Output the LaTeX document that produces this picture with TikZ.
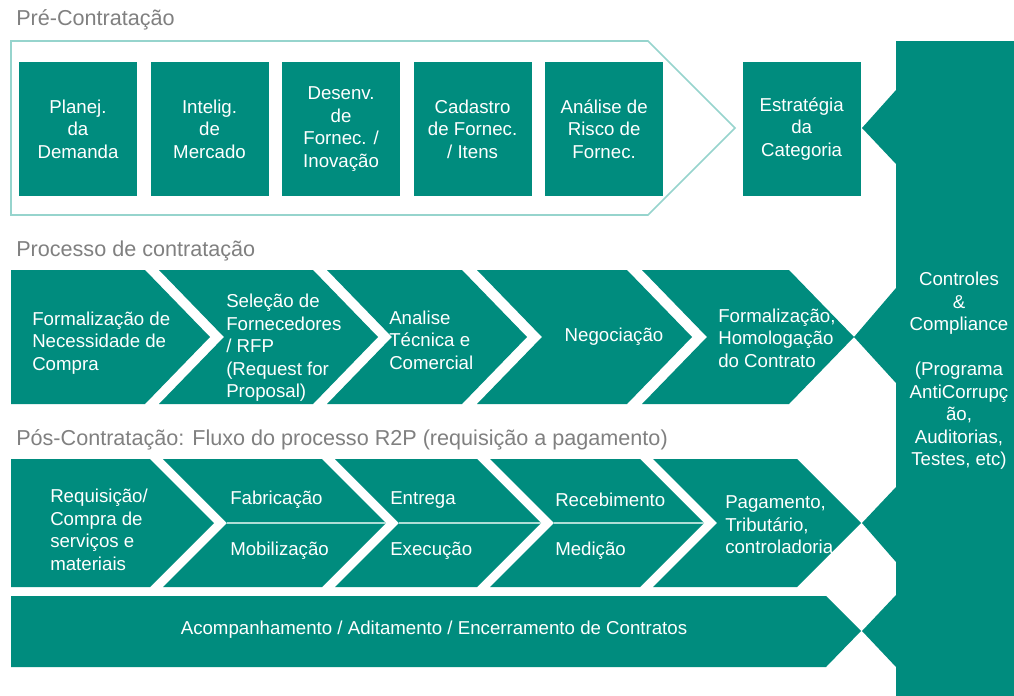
\documentclass[tikz,border=0pt]{standalone}
\usepackage{fontspec}
\setmainfont{Liberation Sans}
\usetikzlibrary{positioning}
\definecolor{tealfill}{RGB}{0,140,126}
\definecolor{tealline}{RGB}{150,212,205}
\definecolor{labelgray}{RGB}{128,128,128}
\definecolor{divline}{RGB}{175,222,215}
\begin{document}
\begin{tikzpicture}[x=0.75pt, y=-0.75pt,
    every node/.style={font=\fontsize{14}{16.9}\selectfont},
    pbox/.style={fill=tealfill, text=white, minimum width=88.5pt, minimum height=100.5pt, align=center, inner sep=0pt},
    lbl/.style={text=labelgray, anchor=base west, inner sep=0pt, font=\fontsize{16.2}{18}\selectfont},
    txt/.style={text=white, anchor=west, align=left, inner sep=0pt},
    divider/.style={draw=divline, line width=0.9pt}]
    \fill[white] (0,0) rectangle (1014,696);
    \useasboundingbox (0,0) rectangle (1014,696);

    % Pre-contratacao
    \node[lbl] (pre) at (16,26) {Pré-Contratação};
    \draw[tealline, line width=1.2pt] (11,41) -- (648,41) -- (735,128) -- (648,215) -- (11,215) -- cycle;
    \node[pbox] (b1) at (78,129) {Planej.\\da\\Demanda};
    \node[pbox, right=9.75pt of b1] (b2) {Intelig.\\de\\Mercado};
    \node[pbox, right=9.75pt of b2] (b3) {Desenv.\\de\\Fornec. /\\Inovação};
    \node[pbox, right=9.75pt of b3] (b4) {Cadastro\\de Fornec.\\/ Itens};
    \node[pbox, right=9.75pt of b4] (b5) {Análise de\\Risco de\\Fornec.};
    \node[pbox, right=59.25pt of b5] (b6) {Estratégia\\da\\Categoria};

    % controles
    \fill[tealfill] (896,41) -- (1014,41) -- (1014,696) -- (896,696) -- (896,667) -- (862,631) -- (896,595)
        -- (896,562) -- (862,523) -- (896,487) -- (896,383) -- (854,337) -- (896,288)
        -- (896,164) -- (862,128) -- (896,90) -- cycle;
    \node[text=white, align=center] (ctrl) at (959,371) {Controles\\\&\\Compliance\\[16.9pt](Programa\\AntiCorrupç\\ão,\\Auditorias,\\Testes, etc)};

    % processo de contratacao
    \node[lbl] (proc) at (16,256) {Processo de contratação};
    \fill[tealfill] (11,270) -- (145,270) -- (210,337) -- (145,404) -- (11,404) -- cycle;
    \fill[tealfill] (159,270) -- (313,270) -- (378,337) -- (313,404) -- (159,404) -- (224,337) -- cycle;
    \fill[tealfill] (327,270) -- (462,270) -- (527,337) -- (462,404) -- (327,404) -- (392,337) -- cycle;
    \fill[tealfill] (477,270) -- (627,270) -- (692,337) -- (627,404) -- (477,404) -- (542,337) -- cycle;
    \fill[tealfill] (642,270) -- (789,270) -- (854,337) -- (789,404) -- (642,404) -- (707,337) -- cycle;
    \node[txt] (p1) at (32,343) {Formalização de\\Necessidade de\\Compra};
    \node[txt] (p2) at (226,348) {Seleção de\\Fornecedores\\/ RFP\\(Request for\\Proposal)};
    \node[txt] (p3) at (389,340) {Analise\\Técnica e\\Comercial};
    \node[text=white] (p4) at (614,337) {Negociação};
    \node[txt] (p5) at (718,338) {Formalização,\\Homologação\\do Contrato};

    % pos-contratacao
    \node[lbl] (pos) at (16,445) {Pós-Contratação: Fluxo do processo R2P (requisição a pagamento)};
    \fill[tealfill] (11,459) -- (150,459) -- (214,523) -- (150,587) -- (11,587) -- cycle;
    \fill[tealfill] (163,459) -- (322,459) -- (386,523) -- (322,587) -- (163,587) -- (227,523) -- cycle;
    \fill[tealfill] (335,459) -- (477,459) -- (541,523) -- (477,587) -- (335,587) -- (399,523) -- cycle;
    \fill[tealfill] (490,459) -- (640,459) -- (704,523) -- (640,587) -- (490,587) -- (554,523) -- cycle;
    \fill[tealfill] (653,459) -- (797,459) -- (861,523) -- (797,587) -- (653,587) -- (717,523) -- cycle;
    \draw[divider] (227,523) -- (386,523);
    \draw[divider] (399,523) -- (541,523);
    \draw[divider] (554,523) -- (704,523);
    \node[txt] (q1) at (50,530) {Requisição/\\Compra de\\serviços e\\materiais};
    \node[txt] (q2a) at (230,500) {Fabricação};
    \node[txt] (q2b) at (230,551) {Mobilização};
    \node[txt] (q3a) at (390,500) {Entrega};
    \node[txt] (q3b) at (390,551) {Execução};
    \node[txt] (q4a) at (555,500) {Recebimento};
    \node[txt] (q4b) at (555,551) {Medição};
    \node[txt] (q5) at (725,525) {Pagamento,\\Tributário,\\controladoria};

    % acompanhamento
    \fill[tealfill] (11,596) -- (826,596) -- (861,631) -- (826,667) -- (11,667) -- cycle;
    \node[text=white] (acomp) at (434,630) {Acompanhamento / Aditamento / Encerramento de Contratos};
\end{tikzpicture}
\end{document}
